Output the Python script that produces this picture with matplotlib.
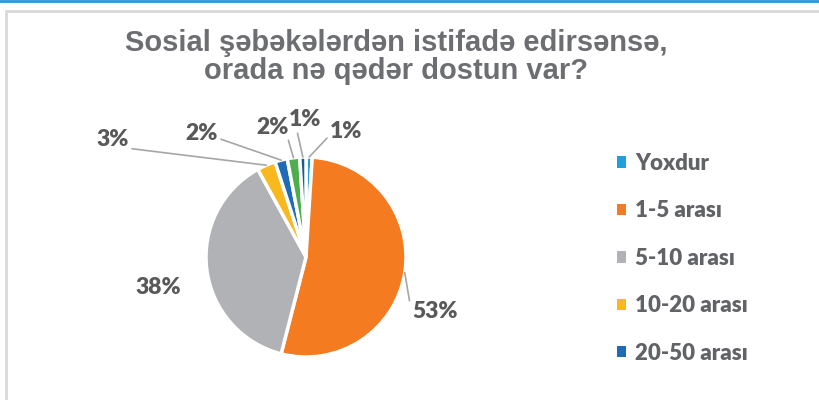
import numpy as np
import matplotlib
matplotlib.use("Agg")
from matplotlib import pyplot
from matplotlib.patches import Rectangle

categories = ["Yoxdur", "1-5 arası", "5-10 arası", "10-20 arası", "20-50 arası", "50-100 arası", "100-dən çox"]
values = [1, 53, 38, 3, 2, 2, 1]
colors = ["#1fa0dc", "#f47b20", "#b1b2b5", "#f8b81e", "#1f6cb6", "#4cae4c", "#1b5a8c"]
title = "Sosial şəbəkələrdən istifadə edirsənsə,\norada nə qədər dostun var?"

# label placement in pixels (x, y from top) and where the leader line leaves the text box
label_pos = [(346, 132), (435, 312), (158, 287), (113, 140), (202, 133), (273, 127), (305, 120)]
label_rel = [(0.0, 0.35), (0.0, 0.25), None, (1.0, 0.1), (1.0, 0.25), (0.95, 0.0), (0.25, 0.0)]

W, H = 820, 400
center = (306, H - 257)
radius = 100


def main():
    figure = pyplot.figure(figsize=(W / 100, H / 100), dpi=100)
    axes = figure.add_axes([0, 0, 1, 1])

    wedges, _ = axes.pie(values, colors=colors, startangle=90, counterclock=False,
                         center=center, radius=radius,
                         wedgeprops=dict(edgecolor="white", linewidth=2.5))
    axes.set_xlim(0, W)
    axes.set_ylim(0, H)
    axes.set_aspect("equal")
    axes.axis("off")

    # chart frame
    axes.add_patch(Rectangle((6.5, -10), W, H - 11 + 10, fill=False,
                             edgecolor="#d9d9d9", linewidth=2, zorder=0))
    axes.plot([0, W], [H - 0.8, H - 0.8], color="#1f9bd7", linewidth=2)

    total = sum(values)
    for w, v, pos, rel in zip(wedges, values, label_pos, label_rel):
        mid = np.deg2rad((w.theta1 + w.theta2) / 2)
        edge = (center[0] + radius * np.cos(mid), center[1] + radius * np.sin(mid))
        text = "%d%%" % round(100 * v / total)
        xytext = (pos[0], H - pos[1])
        if rel is None:
            axes.text(xytext[0], xytext[1], text, ha="center", va="center",
                      fontsize=16.5, fontweight="heavy", color="#595959", family="Lato")
        else:
            axes.annotate(text, xy=edge, xytext=xytext, ha="center", va="center",
                          fontsize=16.5, fontweight="heavy", color="#595959", family="Lato",
                          arrowprops=dict(arrowstyle="-", color="#a6a6a6", lw=1.2,
                                          shrinkA=0, shrinkB=0, relpos=rel))

    axes.text(396, H - 57, title, ha="center", va="center", fontsize=21,
              fontweight="bold", color="#6d6e71", family="Liberation Sans",
              linespacing=0.98)

    legend = axes.legend(wedges[:5], categories[:5], loc="upper left",
                         bbox_to_anchor=(597 / W, 1 - 133 / H), frameon=False,
                         prop=dict(family="Lato", weight="heavy", size=16),
                         handlelength=0.4, handleheight=0.4, handletextpad=0.4,
                         labelspacing=1.19)
    for t in legend.get_texts():
        t.set_color("#626366")
    for h in legend.legend_handles:
        h.set_linewidth(0)

    figure.savefig("out.png", dpi=100)


main()
